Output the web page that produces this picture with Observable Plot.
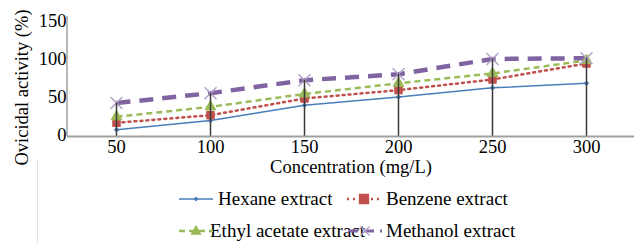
<!DOCTYPE html>
<html><head><meta charset="utf-8">
<script src="https://cdn.jsdelivr.net/npm/d3@7"></script>
<script src="https://cdn.jsdelivr.net/npm/@observablehq/plot@0.6"></script>
<style>
body{margin:0;background:#fff;font-family:"Liberation Serif","Times New Roman","DejaVu Serif",serif;}
#wrap{position:relative;width:634px;height:243px;overflow:hidden;background:#fff}
#wrap svg text{font-family:"Liberation Serif","Times New Roman","DejaVu Serif",serif !important;}
.sw{position:absolute;display:block}
.lt{position:absolute;font-size:19px;line-height:22px;color:#000;white-space:nowrap}
#border{position:absolute;left:37px;top:160px;width:1px;height:83px;background:#e2e2e2}
</style>
</head><body><div id="wrap"></div>
<script>
const concentrations = [50, 100, 150, 200, 250, 300];
const seriesNames = ["Hexane extract", "Benzene extract", "Ethyl acetate extract", "Methanol extract"];
const hexane = [9, 21, 41, 52, 64, 70];
const benzene = [18, 28, 50, 61, 75, 96];
const ethylAcetate = [26, 39, 56, 70, 83, 100];
const methanol = [44, 57, 74, 82, 102, 103];
const yTicks = [0, 50, 100, 150];
const xTitle = "Concentration (mg/L)";
const yTitle = "Ovicidal activity (%)";

const FONT = "'Liberation Serif', 'Times New Roman', 'DejaVu Serif', serif";
const styles = [
  {stroke: "#4a7ebb", width: 1.5, dash: null, symbol: "diamond2", r: 2.5, fill: "#4a7ebb", mstroke: "none"},
  {stroke: "#c0504d", width: 2.5, dash: "2,4", symbol: "square", r: 4.2, fill: "#c0504d", mstroke: "#c0504d"},
  {stroke: "#9bbb59", width: 2.5, dash: "6,4", symbol: "triangle", r: 4, fill: "#9bbb59", mstroke: "#9bbb59"},
  {stroke: "#8064a2", width: 4.5, dash: "14,9", symbol: "times", r: 5.5, fill: "none", mstroke: "#b3a2c7"}
];
const seriesValues = [hexane, benzene, ethylAcetate, methanol];

const rows = [];
seriesNames.forEach((name, s) => concentrations.forEach((c, i) => rows.push({series: name, s, x: c, y: seriesValues[s][i]})));
const maxRows = concentrations.map((c, i) => ({x: c, y: d3.max(seriesValues, v => v[i])}));

const marks = [];
seriesNames.forEach((name, s) => {
  const st = styles[s];
  const data = rows.filter(d => d.s === s);
  marks.push(Plot.line(data, {x: "x", y: "y", stroke: st.stroke, strokeWidth: st.width, strokeDasharray: st.dash, strokeLinecap: s === 1 ? "round" : "butt"}));
});
seriesNames.forEach((name, s) => {
  const st = styles[s];
  const data = rows.filter(d => d.s === s);
  marks.push(Plot.dot(data, {x: "x", y: "y", symbol: () => st.symbol, r: st.r, fill: st.fill, stroke: st.mstroke, strokeWidth: s === 3 ? 1.5 : 1}));
});
marks.push(Plot.ruleX(maxRows, {x: "x", y1: 0, y2: "y", stroke: "#3a3a3a", strokeWidth: 1.5}));
marks.push(Plot.ruleY([0], {stroke: "#a0a0a0", strokeWidth: 2}));
marks.push(Plot.axisY(yTicks, {tickSize: 0, tickPadding: 1, fontSize: 18.5, label: null, dy: -1}));
marks.push(Plot.axisX(concentrations, {tickSize: 0, tickPadding: 3, fontSize: 18.5, label: null}));
marks.push(Plot.text([yTitle], {frameAnchor: "left", textAnchor: "middle", rotate: -90, dx: -45, dy: 8, fontSize: 18.5}));
marks.push(Plot.text([xTitle], {frameAnchor: "bottom", dx: 0, dy: 36, fontSize: 18.5}));

const chart = Plot.plot({
  width: 634, height: 185,
  marginTop: 22, marginBottom: 49, marginLeft: 67, marginRight: 0,
  style: {fontFamily: FONT, color: "#000", background: "#fff", overflow: "visible"},
  x: {type: "point", domain: concentrations, padding: 0.5},
  y: {domain: [0, 150], ticks: yTicks},
  marks
});
const wrap = document.getElementById("wrap");
wrap.appendChild(chart);
d3.select(chart).append("line").attr("x1", 67).attr("x2", 67).attr("y1", 16).attr("y2", 136).attr("stroke", "#a0a0a0").attr("stroke-width", 1.5);

const border = document.createElement("div");
border.id = "border";
wrap.appendChild(border);

// legend: swatch left x, text left x, row center y
const legendPos = [[179, 218, 199], [347, 386, 199], [179, 210, 231], [348, 386, 231]];
const symPaths = {
  diamond2: "M0,-2.5L2.5,0L0,2.5L-2.5,0Z",
  square: "M-4.5,-4.5H4.5V4.5H-4.5Z",
  triangle: "M0,-5L4.5,3H-4.5Z",
  times: "M-4.5,-4.5L4.5,4.5M4.5,-4.5L-4.5,4.5"
};
seriesNames.forEach((name, s) => {
  const st = styles[s];
  const [sx, tx, cy] = legendPos[s];
  const t = document.createElement("div");
  t.className = "lt";
  t.style.left = tx + "px";
  t.style.top = (cy - 11) + "px";
  t.textContent = name;
  wrap.appendChild(t);
  const sw = d3.create("svg").attr("class", "sw").attr("width", 34).attr("height", 20)
    .style("left", sx + "px").style("top", (cy - 10) + "px");
  sw.append("line").attr("x1", 0).attr("x2", 34).attr("y1", 10).attr("y2", 10)
    .attr("stroke", st.stroke).attr("stroke-width", Math.min(st.width, 3)).attr("stroke-dasharray", st.dash ? (s === 3 ? "10,6" : st.dash) : null);
  sw.append("path").attr("d", symPaths[st.symbol]).attr("transform", "translate(17,10)")
    .attr("fill", st.fill).attr("stroke", st.mstroke).attr("stroke-width", 1.3);
  wrap.appendChild(sw.node());
});
</script>
</body></html>
